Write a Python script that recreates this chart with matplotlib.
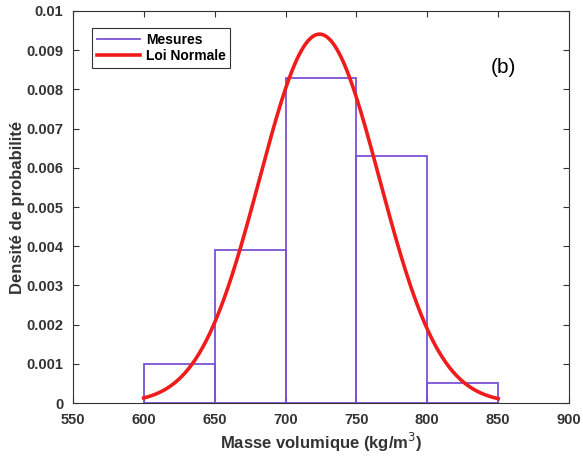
"""Histogram of density measurements with fitted normal law, panel (b)"""

import matplotlib
matplotlib.use('Agg')
import matplotlib.pyplot as plt
import numpy as np

# histogram bins (kg/m3) and normalised densities
bin_edges = [600, 650, 700, 750, 800, 850]
densities = [0.00099, 0.0039, 0.0083, 0.0063, 0.0005]

# fitted normal law parameters
mu = 724.0
sigma = 42.4

xticks = [550, 600, 650, 700, 750, 800, 850, 900]
yticks = [0, 0.001, 0.002, 0.003, 0.004, 0.005, 0.006, 0.007, 0.008, 0.009, 0.01]

plt.rcParams['font.family'] = ['Liberation Sans', 'DejaVu Sans']


def main():
    fig = plt.figure(figsize=(5.83, 4.57), dpi=100)
    ax = fig.add_axes([0.125, 0.118, 0.851, 0.858])

    purple = '#7C52D4'
    # histogram as outlined bars
    lefts = np.array(bin_edges[:-1])
    widths = np.diff(bin_edges)
    ax.bar(lefts, densities, width=widths, align='edge', fill=False,
           edgecolor=purple, linewidth=1.3, zorder=2)
    ax.plot([], [], color=purple, linewidth=1.3, label='Mesures')

    # normal law curve
    x = np.linspace(bin_edges[0], bin_edges[-1], 300)
    pdf = np.exp(-0.5 * ((x - mu) / sigma) ** 2) / (sigma * np.sqrt(2 * np.pi))
    ax.plot(x, pdf, color='#F01C1C', linewidth=2.6, label='Loi Normale', zorder=3)

    ax.set_xlim(550, 900)
    ax.set_ylim(0, 0.01)
    ax.set_xticks(xticks)
    ax.set_yticks(yticks)
    ax.set_xticklabels([str(t) for t in xticks], fontweight='bold', fontsize=10.5, color='#333333')
    ax.set_yticklabels(['0'] + [f'{t:g}' for t in yticks[1:]], fontweight='bold', fontsize=10.5, color='#333333')
    ax.tick_params(direction='in', top=True, right=True, length=4, width=0.8, color='#333333')
    ax.tick_params(axis='x', pad=7)
    ax.tick_params(axis='y', pad=7)
    for s in ax.spines.values():
        s.set_color('#333333')
        s.set_linewidth(0.8)

    ax.set_xlabel('Masse volumique (kg/m$^3$)', fontweight='bold', fontsize=12, color='#333333', labelpad=3)
    ax.set_ylabel('Densité de probabilité', fontweight='bold', fontsize=12, color='#333333', labelpad=1)

    ax.text(0.868, 0.855, '(b)', transform=ax.transAxes, fontsize=15, ha='center', va='center')

    leg = ax.legend(loc='upper left', bbox_to_anchor=(0.025, 0.975), fancybox=False,
                    edgecolor='#333333', framealpha=1, handlelength=3.1,
                    prop={'weight': 'bold', 'size': 10}, borderpad=0.35, labelspacing=0.2,
                    handletextpad=0.4)
    leg.get_frame().set_linewidth(0.8)

    fig.savefig('out.png', dpi=100)


if __name__ == '__main__':
    main()
